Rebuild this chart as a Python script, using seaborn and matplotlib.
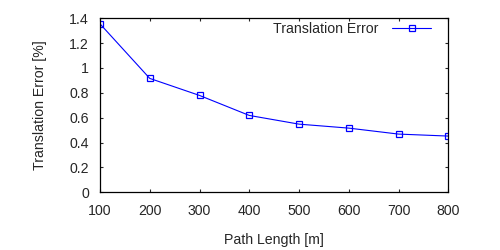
import matplotlib
matplotlib.use("Agg")
import matplotlib.pyplot as plt
import seaborn as sns
import pandas as pd

path_length = [100, 200, 300, 400, 500, 600, 700, 800]
translation_error = [1.355, 0.916, 0.779, 0.618, 0.548, 0.516, 0.468, 0.452]
series_name = "Translation Error"
x_ticks = [100, 200, 300, 400, 500, 600, 700, 800]
y_ticks = [0, 0.2, 0.4, 0.6, 0.8, 1.0, 1.2, 1.4]
y_tick_labels = ["0", "0.2", "0.4", "0.6", "0.8", "1", "1.2", "1.4"]

sns.set_style("ticks")
plt.rcParams['font.family'] = ['Liberation Sans', 'DejaVu Sans']

df = pd.DataFrame({"Path Length [m]": path_length, "Translation Error [%]": translation_error})

FS = 10.2
fig = plt.figure(figsize=(5, 2.5), dpi=100)
ax = fig.add_axes([0.2, 0.231, 0.6966, 0.696])
sns.lineplot(data=df, x="Path Length [m]", y="Translation Error [%]", ax=ax,
             color="#0000ff", linewidth=0.8, marker="s", markersize=5,
             markerfacecolor="none", markeredgecolor="#0000ff", markeredgewidth=0.9,
             label=series_name)

ax.set_xlim(100, 800)
ax.set_ylim(0, 1.4)
ax.set_xticks(x_ticks)
ax.set_yticks(y_ticks)
ax.set_yticklabels(y_tick_labels)
ax.tick_params(axis="both", direction="in", length=2.5, width=0.8, labelsize=FS,
               top=True, right=True)
ax.tick_params(axis="x", pad=8.5)
ax.tick_params(axis="y", pad=8)
for s in ax.spines.values():
    s.set_linewidth(0.9)
    s.set_color("black")
ax.set_xlabel("Path Length [m]", fontsize=FS, labelpad=11)
ax.set_ylabel("Translation Error [%]", fontsize=FS, labelpad=16)
ax.legend(loc="center right", bbox_to_anchor=(0.967, 0.937), borderaxespad=0,
          frameon=False, markerfirst=False, fontsize=FS,
          handlelength=2.75, handletextpad=1.0)

fig.savefig("out.png", dpi=100)
